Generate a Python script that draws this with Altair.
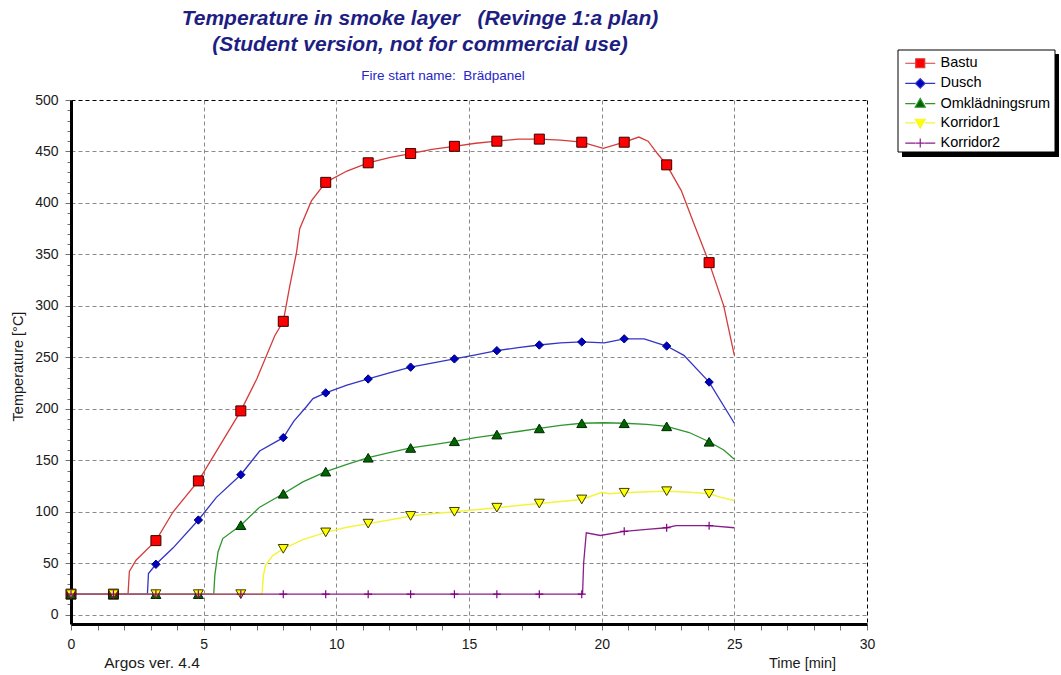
import altair as alt
import pandas as pd

FONT = "Liberation Sans"

series = ["Bastu", "Dusch", "Omklädningsrum", "Korridor1", "Korridor2"]

# ---- line data (time [min], temperature [°C]) ----
bastu_t = [0, 2.15, 2.2, 2.45, 3.2, 3.85, 4.8, 4.97, 6.4, 7.0, 7.68, 8.0, 8.25, 8.5, 8.62, 9.06, 9.6,
           10.4, 11.2, 12.0, 12.8, 13.6, 14.45, 15.25, 16.05, 16.85, 17.65, 18.45, 19.25, 20.06,
           20.85, 21.4, 21.75, 22.1, 22.45, 23.0, 23.46, 24.05, 24.6, 25.0]
bastu_v = [20, 20, 42, 53, 72, 100, 130, 137, 198, 229, 271, 285, 320, 352, 375, 402, 420,
           431, 439, 444, 448, 452, 455, 458, 460, 462, 462, 461, 459, 453,
           459, 464, 460, 448, 437, 412, 381, 342, 300, 252]

dusch_t = [0, 2.88, 2.92, 3.2, 3.85, 4.8, 5.48, 6.4, 7.11, 8.0, 8.4, 8.87, 9.12, 9.6, 10.4, 11.2,
           12.0, 12.8, 13.6, 14.45, 15.25, 16.05, 16.85, 17.65, 18.45, 19.25, 20.1, 20.85, 21.6,
           22.45, 23.1, 24.05, 25.0]
dusch_v = [20, 20, 40, 49, 65, 92, 114, 136, 159, 172, 188, 202, 210, 215.5, 223, 229,
           235, 240.5, 244.5, 248.5, 252.5, 256.5, 259.5, 262, 264, 265, 264, 268, 268,
           261, 252, 226, 186]

omk_t = [0, 5.38, 5.42, 5.54, 5.72, 6.4, 7.11, 8.0, 8.74, 9.6, 10.4, 11.2, 12.0, 12.8, 13.6,
         14.45, 15.25, 16.05, 16.85, 17.65, 18.45, 19.25, 20.1, 20.85, 21.7, 22.45, 23.3, 24.05,
         24.6, 25.0]
omk_v = [20, 20, 38, 61, 74, 87, 104.5, 117.5, 129, 139, 146, 152.5, 157.5, 162, 165,
         168.5, 172, 175, 178, 181, 184, 186, 186.5, 186, 185, 183, 177, 168,
         160, 151]

k1_t = [0, 7.2, 7.25, 7.33, 7.6, 8.0, 8.74, 9.6, 10.4, 11.2, 12.0, 12.8, 13.6, 14.45, 15.25,
        16.05, 16.85, 17.65, 18.45, 19.25, 19.7, 20.0, 20.3, 20.85, 21.7, 22.45, 23.3, 24.05,
        24.5, 25.0]
k1_v = [20, 20, 38, 48, 57.5, 64, 73, 80, 85, 88.5, 92, 96, 98, 100, 102,
        104, 106, 108, 110, 112, 116, 119, 117.5, 118.5, 119.5, 120, 119, 117.5,
        114, 111]

k2_t = [0, 19.28, 19.32, 19.42, 19.95, 20.85, 21.7, 22.45, 22.8, 23.5, 24.05, 25.0]
k2_v = [20, 20, 50, 79.5, 77, 81, 83, 84.5, 86.5, 86.5, 86.5, 84.5]

# ---- marker data ----
marker_t = [0, 1.6, 3.2, 4.8, 6.4, 8.0, 9.6, 11.2, 12.8, 14.45, 16.05, 17.65, 19.25, 20.85, 22.45, 24.05]
bastu_m = [20, 20, 72, 130, 198, 285, 420, 439, 448, 455, 460, 462, 459, 459, 437, 342]
dusch_m = [20, 20, 49, 92, 136, 172, 215.5, 229, 240.5, 248.5, 256.5, 262, 265, 268, 261, 226]
omk_m = [20, 20, 20, 20, 87, 117.5, 139, 152.5, 162, 168.5, 175, 181, 186, 186, 183, 168]
k1_m = [20, 20, 20, 20, 20, 64, 80, 88.5, 96, 100, 104, 108, 112, 118.5, 120, 117.5]
k2_m = [20, 20, 20, 20, 20, 20, 20, 20, 20, 20, 20, 20, 20, 81, 84.5, 86.5]

# ---- styles ----
line_colors = ["#d43c3c", "#3434c4", "#2f962f", "#f4f43c", "#8a1e8a"]
fill_colors = ["#ff0000", "#0000c0", "#006400", "#ffff00", "#800080"]
outline_colors = ["#3a0000", "#00007a", "#002800", "#3a3a00", "#800080"]
marker_shapes = ["square", "diamond", "triangle-up", "triangle-down", "M-1,0H1M0,-1V1"]
marker_sizes = [100, 70, 100, 100, 64]
legend_marks = ["M-0.75,-0.75H0.75V0.75H-0.75Z",
                "M-0.8,0L0,-0.8L0.8,0L0,0.8Z",
                "M-0.85,0.6L0,-0.85L0.85,0.6Z",
                "M-0.85,-0.6L0,0.85L0.85,-0.6Z",
                "M-0.75,0H0.75M0,-0.75V0.75"]
legend_paths = ["M-2.5,0H-0.8M0.8,0H2.5" + m for m in legend_marks]

lines_rows = []
for s, ts, vs in zip(series, [bastu_t, dusch_t, omk_t, k1_t, k2_t],
                     [bastu_v, dusch_v, omk_v, k1_v, k2_v]):
    for i, (t, v) in enumerate(zip(ts, vs)):
        lines_rows.append({"series": s, "t": t, "v": v, "i": i})
lines_df = pd.DataFrame(lines_rows)

mark_rows = []
for s, vs in zip(series, [bastu_m, dusch_m, omk_m, k1_m, k2_m]):
    for t, v in zip(marker_t, vs):
        mark_rows.append({"series": s, "t": t, "v": v})
marks_df = pd.DataFrame(mark_rows)

x_scale = alt.Scale(domain=[0, 30], nice=False, zero=False)
y_scale = alt.Scale(domain=[-9, 500], nice=False, zero=False)

x_axis = alt.Axis(
    values=list(range(0, 31)),
    labelExpr="datum.value % 5 === 0 ? datum.label : ''",
    labelOverlap=False, labelFlush=False,
    grid=True,
    gridColor={"condition": {"test": "datum.value === 30", "value": "#000000"}, "value": "#8a8a8a"},
    gridOpacity={"condition": {"test": "datum.value % 5 === 0 && datum.value > 0", "value": 1}, "value": 0},
    gridDash=[4, 3], gridWidth=1,
    tickSize=6, tickColor="#707070", tickWidth=1,
    domainColor="#000000", domainWidth=3,
    labelPadding=7, labelFont=FONT, labelFontSize=14, labelColor="#1a1a1a",
    title="Time [min]", titleFont=FONT, titleFontSize=14.5, titleFontWeight="normal",
    titleColor="#1a1a1a", titleX=731, titleY=39, titleAlign="center", titleBaseline="middle",
)
y_axis = alt.Axis(
    values=list(range(0, 501, 10)),
    labelExpr="datum.value % 50 === 0 ? datum.label : ''",
    labelOverlap=False, labelFlush=False,
    grid=True,
    gridColor={"condition": {"test": "datum.value === 500", "value": "#000000"}, "value": "#8a8a8a"},
    gridOpacity={"condition": {"test": "datum.value % 50 === 0", "value": 1}, "value": 0},
    gridDash=[4, 3], gridWidth=1,
    tickSize={"condition": {"test": "datum.value % 50 === 0", "value": 6}, "value": 4},
    tickColor="#707070", tickWidth=1,
    domainColor="#000000", domainWidth=3,
    labelPadding=7, labelFont=FONT, labelFontSize=14, labelColor="#1a1a1a",
    title="Temperature [°C]", titleFont=FONT, titleFontSize=14.5, titleFontWeight="normal",
    titleColor="#1a1a1a", titleX=-53, titleY=266, titleAngle=270, titleAlign="center",
    titleBaseline="middle",
)

X = alt.X("t:Q", scale=x_scale, axis=x_axis)
Y = alt.Y("v:Q", scale=y_scale, axis=y_axis)

line_layers = []
for s, lc in zip(series, line_colors):
    line_layers.append(
        alt.Chart(lines_df).transform_filter(alt.datum.series == s).mark_line(
            strokeWidth=1.5 if s == "Korridor1" else 1.3, color=lc
        ).encode(x=X, y=Y, order="i:Q")
    )

point_layers = []
for s, shp, fc, oc, sz in zip(series, marker_shapes, fill_colors, outline_colors, marker_sizes):
    point_layers.append(
        alt.Chart(marks_df).transform_filter(alt.datum.series == s).mark_point(
            shape=shp, filled=True, fill=fc, stroke=oc, strokeWidth=1.2 if s == "Korridor2" else 1,
            size=sz, opacity=1,
        ).encode(x=X, y=Y)
    )

leg = alt.Legend(
    orient="none", legendX=842, legendY=-44, title=None, padding=0,
    labelFont=FONT, labelFontSize=14.5, labelColor="#000000", labelOffset=13,
    rowPadding=4.2, symbolSize=144, symbolStrokeWidth=1.2,
)
legend_layer = alt.Chart(marks_df).transform_filter("false").mark_point(
    filled=False, size=144, opacity=1, strokeWidth=1.2
).encode(
    x=X, y=Y,
    color=alt.Color("series:N", scale=alt.Scale(domain=series, range=line_colors), legend=leg),
    fill=alt.Fill("series:N", scale=alt.Scale(domain=series, range=fill_colors), legend=leg),
    shape=alt.Shape("series:N", scale=alt.Scale(domain=series, range=legend_paths), legend=leg),
)

one = pd.DataFrame({"k": [0]})
legend_shadow = alt.Chart(one).mark_rect(color="#000000").encode(
    x=alt.value(831), x2=alt.value(988), y=alt.value(-46), y2=alt.value(57))
legend_box = alt.Chart(one).mark_rect(fill="#ffffff", stroke="#000000", strokeWidth=1).encode(
    x=alt.value(827), x2=alt.value(984), y=alt.value(-50), y2=alt.value(52))

title_color = "#1e1e82"
title1 = alt.Chart(pd.DataFrame({"txt": ["Temperature in smoke layer \u00a0\u00a0(Revinge 1:a plan)"]})).mark_text(
    font=FONT, fontSize=21, fontWeight="bold", fontStyle="italic", color=title_color,
    align="center", baseline="middle").encode(x=alt.value(349), y=alt.value(-81), text="txt:N")
title2 = alt.Chart(pd.DataFrame({"txt": ["(Student version, not for commercial use)"]})).mark_text(
    font=FONT, fontSize=21, fontWeight="bold", fontStyle="italic", color=title_color,
    align="center", baseline="middle").encode(x=alt.value(349), y=alt.value(-55), text="txt:N")
subtitle = alt.Chart(pd.DataFrame({"txt": ["Fire start name: \u00a0Brädpanel"]})).mark_text(
    font=FONT, fontSize=13.5, color="#2626c8",
    align="center", baseline="middle").encode(x=alt.value(372), y=alt.value(-24), text="txt:N")
argos = alt.Chart(pd.DataFrame({"txt": ["Argos ver. 4.4"]})).mark_text(
    font=FONT, fontSize=15.5, color="#1a1a1a",
    align="center", baseline="middle").encode(x=alt.value(81), y=alt.value(563), text="txt:N")

chart = alt.layer(
    legend_shadow, legend_box, *line_layers, *point_layers, legend_layer,
    title1, title2, subtitle, argos,
).properties(
    width=796, height=524,
    padding={"left": 71, "top": 100, "right": 194, "bottom": 51},
    autosize=alt.AutoSizeParams(type="none"),
    background="#ffffff",
).configure_view(strokeWidth=0)

chart.save("out.html", embed_options={"renderer": "svg", "actions": False})
